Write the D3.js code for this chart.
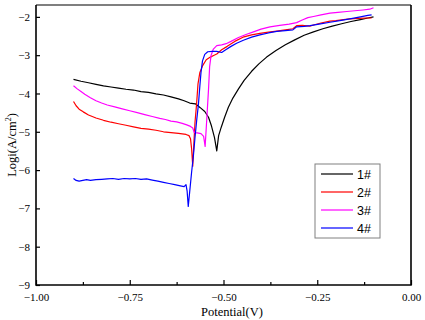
<!DOCTYPE html>
<html>
<head>
<meta charset="utf-8">
<script src="https://cdn.jsdelivr.net/npm/d3@7"></script>
<style>
  body { margin: 0; background: #fff; }
  svg { display: block; }
  .axis text { font-family: "Liberation Serif", "Times New Roman", serif; font-size: 11px; fill: #000; }
  .axis path { display: none; }
  .axis line { stroke: #000; stroke-width: 1.2; }
</style>
</head>
<body>
<div id="chart"></div>
<script>
// polarization curves, potential (V) vs log current density
const curve1 = [[-0.900,-3.63],[-0.880,-3.68],[-0.860,-3.72],[-0.840,-3.76],[-0.820,-3.80],[-0.800,-3.83],[-0.780,-3.86],[-0.760,-3.89],[-0.740,-3.91],[-0.720,-3.95],[-0.700,-3.97],[-0.680,-4.01],[-0.660,-4.04],[-0.640,-4.09],[-0.620,-4.14],[-0.605,-4.19],[-0.590,-4.25],[-0.575,-4.27],[-0.562,-4.37],[-0.550,-4.47],[-0.540,-4.62],[-0.532,-4.85],[-0.524,-5.15],[-0.518,-5.50],[-0.513,-5.10],[-0.506,-4.88],[-0.497,-4.62],[-0.487,-4.36],[-0.475,-4.12],[-0.460,-3.88],[-0.445,-3.66],[-0.425,-3.42],[-0.405,-3.22],[-0.385,-3.05],[-0.360,-2.88],[-0.335,-2.73],[-0.310,-2.60],[-0.285,-2.48],[-0.260,-2.39],[-0.235,-2.31],[-0.210,-2.24],[-0.185,-2.18],[-0.160,-2.12],[-0.135,-2.07],[-0.115,-2.03],[-0.100,-2.00]];

const curve2 = [[-0.900,-4.21],[-0.893,-4.32],[-0.885,-4.41],[-0.874,-4.48],[-0.860,-4.56],[-0.840,-4.64],[-0.820,-4.70],[-0.800,-4.75],[-0.780,-4.79],[-0.760,-4.83],[-0.740,-4.87],[-0.720,-4.91],[-0.700,-4.93],[-0.680,-4.96],[-0.660,-5.00],[-0.640,-5.02],[-0.620,-5.04],[-0.600,-5.07],[-0.592,-5.10],[-0.588,-5.18],[-0.585,-5.45],[-0.582,-5.90],[-0.579,-5.30],[-0.576,-4.75],[-0.572,-4.30],[-0.568,-3.75],[-0.563,-3.45],[-0.556,-3.28],[-0.546,-3.12],[-0.535,-3.05],[-0.525,-3.00],[-0.518,-2.97],[-0.505,-2.86],[-0.490,-2.77],[-0.470,-2.64],[-0.448,-2.53],[-0.425,-2.47],[-0.403,-2.43],[-0.380,-2.40],[-0.358,-2.37],[-0.335,-2.34],[-0.315,-2.31],[-0.305,-2.23],[-0.290,-2.22],[-0.270,-2.24],[-0.255,-2.20],[-0.240,-2.16],[-0.216,-2.11],[-0.200,-2.10],[-0.180,-2.07],[-0.163,-2.05],[-0.140,-2.04],[-0.120,-2.03],[-0.105,-2.03]];

const curve3 = [[-0.900,-3.80],[-0.890,-3.88],[-0.880,-3.95],[-0.870,-4.02],[-0.855,-4.11],[-0.840,-4.19],[-0.825,-4.25],[-0.810,-4.30],[-0.790,-4.35],[-0.770,-4.40],[-0.750,-4.45],[-0.730,-4.50],[-0.710,-4.55],[-0.690,-4.60],[-0.670,-4.65],[-0.655,-4.68],[-0.640,-4.72],[-0.625,-4.74],[-0.610,-4.78],[-0.598,-4.82],[-0.588,-4.86],[-0.582,-4.90],[-0.578,-5.02],[-0.570,-5.03],[-0.560,-5.05],[-0.553,-5.12],[-0.549,-5.38],[-0.546,-4.90],[-0.543,-4.40],[-0.540,-3.90],[-0.537,-3.30],[-0.533,-3.00],[-0.527,-2.84],[-0.518,-2.75],[-0.505,-2.73],[-0.493,-2.70],[-0.480,-2.64],[-0.460,-2.54],[-0.440,-2.46],[-0.420,-2.39],[-0.400,-2.32],[-0.376,-2.26],[-0.350,-2.22],[-0.325,-2.19],[-0.305,-2.15],[-0.290,-2.08],[-0.275,-2.02],[-0.260,-1.99],[-0.240,-1.95],[-0.216,-1.90],[-0.195,-1.88],[-0.171,-1.86],[-0.150,-1.84],[-0.128,-1.82],[-0.110,-1.80],[-0.100,-1.76]];

const curve4 = [[-0.900,-6.22],[-0.893,-6.27],[-0.885,-6.29],[-0.875,-6.27],[-0.865,-6.25],[-0.855,-6.27],[-0.840,-6.25],[-0.825,-6.24],[-0.810,-6.23],[-0.795,-6.22],[-0.780,-6.24],[-0.765,-6.22],[-0.750,-6.23],[-0.735,-6.22],[-0.720,-6.24],[-0.705,-6.23],[-0.690,-6.26],[-0.675,-6.29],[-0.660,-6.32],[-0.645,-6.35],[-0.630,-6.38],[-0.615,-6.41],[-0.605,-6.43],[-0.600,-6.38],[-0.597,-6.55],[-0.594,-6.95],[-0.590,-6.55],[-0.585,-6.05],[-0.580,-5.60],[-0.576,-5.15],[-0.571,-4.65],[-0.567,-4.30],[-0.563,-3.80],[-0.560,-3.45],[-0.556,-3.15],[-0.550,-2.98],[-0.542,-2.91],[-0.530,-2.90],[-0.518,-2.90],[-0.505,-2.93],[-0.493,-2.85],[-0.480,-2.77],[-0.465,-2.69],[-0.447,-2.61],[-0.425,-2.53],[-0.403,-2.47],[-0.380,-2.42],[-0.358,-2.38],[-0.335,-2.36],[-0.315,-2.34],[-0.305,-2.26],[-0.285,-2.25],[-0.269,-2.23],[-0.245,-2.19],[-0.216,-2.14],[-0.190,-2.10],[-0.163,-2.05],[-0.135,-2.00],[-0.115,-1.96],[-0.105,-1.95]];

const seriesNames = ["1#", "2#", "3#", "4#"];
const seriesColors = ["#000000", "#ff0000", "#ff00ff", "#0000ff"];
const xTicks = [-1.00, -0.75, -0.50, -0.25, 0.00];
const xMinorTicks = [-0.875, -0.625, -0.375, -0.125];
const yTicks = [-9, -8, -7, -6, -5, -4, -3, -2];

const W = 425, H = 320;
const plot = { left: 36, right: 411, top: 5, bottom: 285 };

const svg = d3.select("#chart").append("svg")
    .attr("width", W)
    .attr("height", H);

const x = d3.scaleLinear().domain([-1, 0]).range([plot.left, plot.right]);
const y = d3.scaleLinear().domain([-9, -1.69]).range([plot.bottom, plot.top]);

// curves
const line = d3.line().x(d => x(d[0])).y(d => y(d[1]));
[curve1, curve2, curve3, curve4].forEach((c, i) => {
    svg.append("path")
        .datum(c)
        .attr("fill", "none")
        .attr("stroke", seriesColors[i])
        .attr("stroke-width", 1.2)
        .attr("stroke-linejoin", "round")
        .attr("d", line);
});

// axes, ticks point inward
svg.append("g")
    .attr("class", "axis")
    .attr("transform", `translate(0,${plot.bottom})`)
    .call(d3.axisBottom(x).tickValues(xMinorTicks).tickSize(-3).tickFormat(""));

svg.append("g")
    .attr("class", "axis")
    .attr("transform", `translate(0,${plot.bottom})`)
    .call(d3.axisBottom(x).tickValues(xTicks).tickSize(-5).tickPadding(8).tickFormat(d3.format(".2f")));

svg.append("g")
    .attr("class", "axis")
    .attr("transform", `translate(${plot.left},0)`)
    .call(d3.axisLeft(y).tickValues(yTicks).tickSize(-4).tickPadding(6).tickFormat(d3.format("d")));

// frame
svg.append("line").attr("x1", plot.left).attr("x2", plot.right + 0.8).attr("y1", plot.bottom).attr("y2", plot.bottom)
    .attr("stroke", "#000").attr("stroke-width", 1.6);
svg.append("line").attr("x1", plot.left).attr("x2", plot.left).attr("y1", plot.top).attr("y2", plot.bottom + 0.8)
    .attr("stroke", "#000").attr("stroke-width", 1.6);
svg.append("line").attr("x1", plot.left).attr("x2", plot.right).attr("y1", plot.top).attr("y2", plot.top)
    .attr("stroke", "#000").attr("stroke-width", 1.1);
svg.append("line").attr("x1", plot.right).attr("x2", plot.right).attr("y1", plot.top).attr("y2", plot.bottom)
    .attr("stroke", "#000").attr("stroke-width", 1.6);

// axis titles
svg.append("text")
    .attr("x", 232)
    .attr("y", 316)
    .attr("text-anchor", "middle")
    .style("font-family", "'Liberation Serif', 'Times New Roman', serif")
    .style("font-size", "12.5px")
    .text("Potential(V)");

const yl = svg.append("text")
    .attr("transform", "translate(16,145) rotate(-90)")
    .attr("text-anchor", "middle")
    .style("font-family", "'Liberation Serif', 'Times New Roman', serif")
    .style("font-size", "12.5px");
yl.append("tspan").text("Logi(A/cm");
yl.append("tspan").attr("dy", -5).style("font-size", "8px").text("2");
yl.append("tspan").attr("dy", 5).text(")");

// legend
const lg = svg.append("g").attr("transform", "translate(315,164)");
lg.append("rect")
    .attr("width", 65).attr("height", 74)
    .attr("fill", "#fff").attr("stroke", "#808080").attr("stroke-width", 1);
seriesNames.forEach((n, i) => {
    const yy = 10 + i * 18;
    lg.append("line")
        .attr("x1", 6).attr("x2", 38).attr("y1", yy).attr("y2", yy)
        .attr("stroke", seriesColors[i]).attr("stroke-width", 1.2);
    lg.append("text")
        .attr("x", 42).attr("y", yy + 4.5)
        .style("font-family", "'Liberation Sans', Arial, sans-serif")
        .style("font-size", "12.5px")
        .text(n);
});
</script>
</body>
</html>
